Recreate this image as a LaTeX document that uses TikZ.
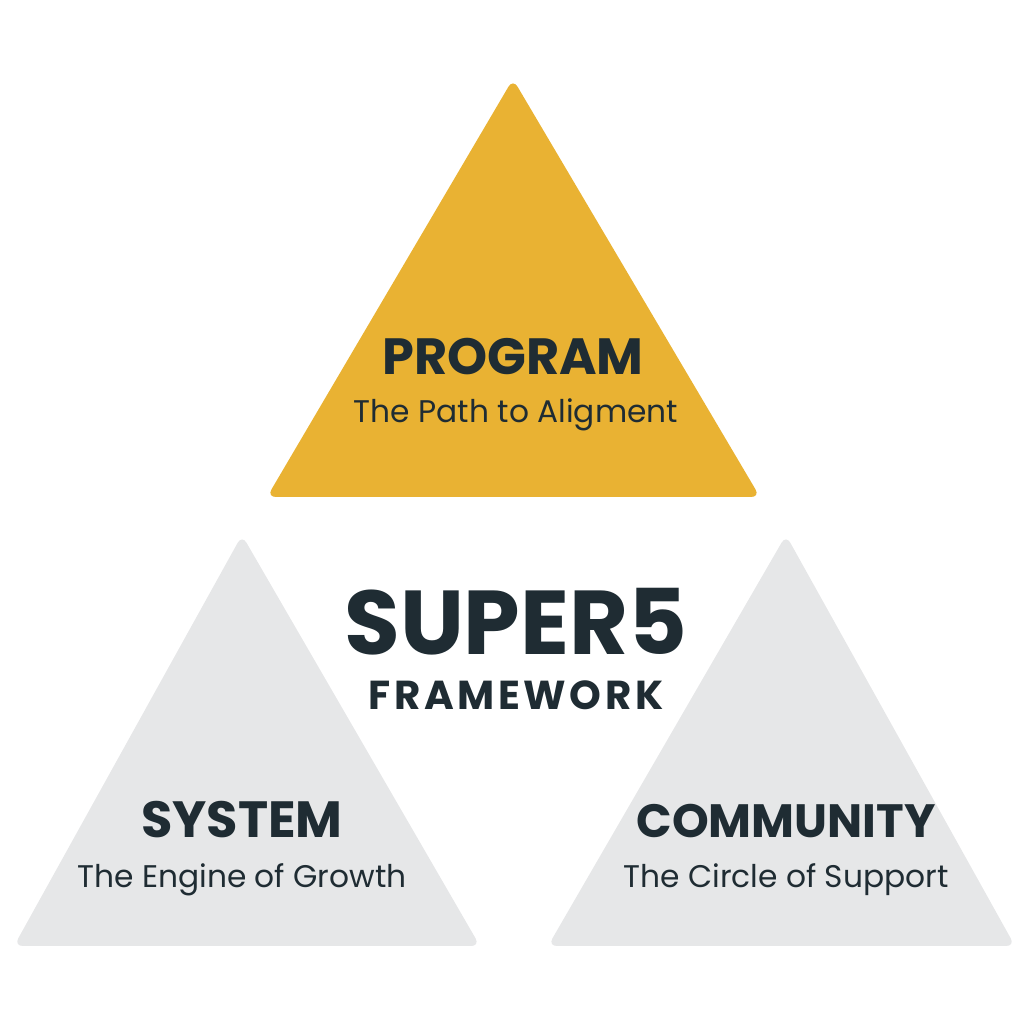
\documentclass[tikz,border=0pt]{standalone}
\usepackage{fontspec}
\setmainfont{Poppins}
\usepackage{tikz}
\usetikzlibrary{positioning}
\definecolor{progc}{HTML}{E9B233}
\definecolor{sidec}{HTML}{E6E7E8}
\definecolor{inkc}{HTML}{1F2C33}
\begin{document}
\begin{tikzpicture}[tri/.style={rounded corners=2.5pt},
                    title/.style={anchor=base, text=inkc, font=\fontsize{14.5}{16}\selectfont\bfseries, inner sep=0pt},
                    motto/.style={anchor=base, text=inkc, font=\fontsize{8.9}{11}\selectfont, inner sep=0pt}]
  \useasboundingbox (0,0) rectangle (10.24,10.24);
  % three triangles
  \fill[progc, tri] (5.13,9.45) -- (7.60,5.27) -- (2.67,5.27) -- cycle;
  \fill[sidec, tri] (2.42,4.89) -- (4.80,0.78) -- (0.14,0.78) -- cycle;
  \fill[sidec, tri] (7.86,4.89) -- (10.15,0.78) -- (5.48,0.78) -- cycle;
  % top: program
  \node[title] (prog) at (5.13,6.49) {PROGRAM};
  \node[motto] (progsub) at (5.16,6.01) {The Path to Aligment};
  % centre
  \node[title, font=\fontsize{25.8}{28}\selectfont\bfseries] (super) at (5.16,3.69) {SUPER5};
  \node[title, font=\fontsize{11.5}{13}\selectfont\bfseries\addfontfeature{LetterSpace=9}] (frame) at (5.16,3.14) {FRAMEWORK};
  % bottom left: system
  \node[title] (sys) at (2.42,1.86) {SYSTEM};
  \node[motto] (syssub) at (2.42,1.36) {The Engine of Growth};
  % bottom right: community
  \node[title, font=\fontsize{13.3}{15}\selectfont\bfseries] (com) at (7.86,1.87) {COMMUNITY};
  \node[motto] (comsub) at (7.86,1.36) {The Circle of Support};
\end{tikzpicture}
\end{document}
